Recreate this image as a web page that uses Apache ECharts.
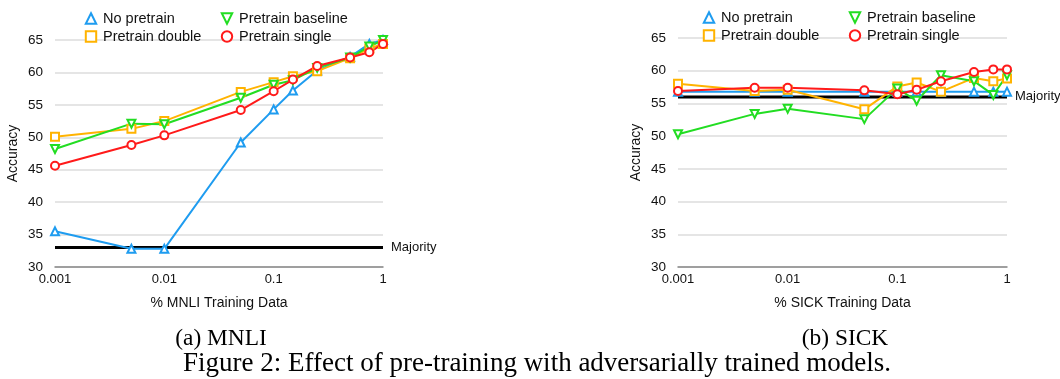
<!DOCTYPE html>
<html>
<head>
<meta charset="utf-8">
<script src="https://cdn.jsdelivr.net/npm/echarts@6/dist/echarts.min.js"></script>
<style>html,body{margin:0;padding:0;background:#fff}#c{width:1060px;height:379px}</style>
</head>
<body>
<div id="c"></div>
<script>
const xVals = [0.001, 0.005, 0.01, 0.05, 0.1, 0.15, 0.25, 0.5, 0.75, 1];
const yTicks = [30, 35, 40, 45, 50, 55, 60, 65];
const xTickLabels = ['0.001', '0.01', '0.1', '1'];
const seriesNames = ['No pretrain', 'Pretrain double', 'Pretrain baseline', 'Pretrain single'];

// MNLI
const mnliNoPretrain = [35.5, 32.8, 32.8, 49.2, 54.3, 57.2, 60.3, 62.4, 64.4, 65.0];
const mnliDouble     = [50.1, 51.3, 52.5, 57.0, 58.5, 59.4, 60.2, 62.2, 63.7, 64.4];
const mnliBaseline   = [48.2, 52.1, 52.0, 56.1, 58.1, 58.8, 60.7, 62.3, 64.0, 65.0];
const mnliSingle     = [45.6, 48.8, 50.3, 54.2, 57.1, 58.9, 61.0, 62.3, 63.1, 64.4];
const mnliMajority = 33.0;

// SICK
const sickNoPretrain = [56.8, 56.8, 56.8, 56.8, 56.8, 56.8, 56.8, 56.8, 56.8, 56.8];
const sickDouble     = [58.0, 56.9, 57.1, 54.1, 57.6, 58.2, 56.8, 58.9, 58.4, 58.8];
const sickBaseline   = [50.3, 53.4, 54.2, 52.6, 57.3, 55.4, 59.3, 58.4, 56.3, 59.3];
const sickSingle     = [56.9, 57.4, 57.4, 57.0, 56.4, 57.1, 58.4, 59.8, 60.2, 60.2];
const sickMajority = 56.0;

const colors = {
  'No pretrain': '#1e9cf0',
  'Pretrain double': '#ffb300',
  'Pretrain baseline': '#22dd22',
  'Pretrain single': '#ff1a1a'
};
const symbols = {
  'No pretrain': ['emptyTriangle', 0],
  'Pretrain double': ['emptyRect', 0],
  'Pretrain baseline': ['emptyTriangle', 180],
  'Pretrain single': ['emptyCircle', 0]
};
const FONT = 'Liberation Sans, Arial, Helvetica, sans-serif';
const SERIF = '"Liberation Serif", "Times New Roman", serif';

function pairs(vals) { return xVals.map((x, i) => [x, vals[i]]); }

function lineSeries(name, vals, idx) {
  return {
    type: 'line', name: name, xAxisIndex: idx, yAxisIndex: idx,
    data: pairs(vals),
    symbol: symbols[name][0], symbolRotate: symbols[name][1], symbolSize: 8,
    itemStyle: { color: colors[name], borderWidth: 1.4 },
    lineStyle: { color: colors[name], width: 2 },
    emphasis: { disabled: true }
  };
}
function majoritySeries(val, idx) {
  return {
    type: 'line', name: 'Majority', xAxisIndex: idx, yAxisIndex: idx,
    data: [[xVals[0], val], [xVals[xVals.length - 1], val]],
    symbol: 'none', silent: true,
    lineStyle: { color: '#000', width: 3 },
    endLabel: { show: true, formatter: 'Majority', color: '#111', fontSize: 13, fontFamily: FONT, distance: 8 },
    emphasis: { disabled: true }
  };
}

function xAxis(idx, title) {
  return {
    type: 'log', logBase: 10, min: 0.001, max: 1, gridIndex: idx,
    name: title, nameLocation: 'middle', nameGap: 29,
    nameTextStyle: { fontSize: 14, fontFamily: FONT, color: '#111' },
    axisLine: { show: true, lineStyle: { color: '#888', width: 1.5 } },
    axisTick: { show: false },
    splitLine: { show: false },
    axisLabel: {
      margin: 6, fontSize: 13, fontFamily: FONT, color: '#111',
      formatter: function (v) {
        const s = String(+(+v).toPrecision(3));
        return xTickLabels.indexOf(s) >= 0 ? s : '';
      }
    }
  };
}
function yAxis(idx) {
  return {
    type: 'value', min: yTicks[0], max: yTicks[yTicks.length - 1], interval: 5, gridIndex: idx,
    name: 'Accuracy', nameLocation: 'middle', nameGap: 35,
    nameTextStyle: { fontSize: 14, fontFamily: FONT, color: '#111' },
    axisLine: { show: false }, axisTick: { show: false },
    splitLine: { lineStyle: { color: '#dcdcdc', width: 1.5 } },
    axisLabel: { margin: 12, fontSize: 13.5, fontFamily: FONT, color: '#111' }
  };
}
function legend(names, left, top) {
  return {
    orient: 'vertical', left: left, top: top, data: names,
    itemWidth: 22, itemHeight: 13, itemGap: 3,
    textStyle: { fontSize: 14.5, fontFamily: FONT, color: '#111', padding: [0, 0, 0, -4] },
    lineStyle: { color: 'rgba(0,0,0,0)', width: 0 },
    selectedMode: false
  };
}

const chart = echarts.init(document.getElementById('c'), null, { renderer: 'canvas' });
chart.setOption({
  animation: false,
  backgroundColor: '#fff',
  grid: [
    { left: 55, top: 40, width: 328, height: 227 },
    { left: 678, top: 38, width: 329, height: 229 }
  ],
  xAxis: [xAxis(0, '% MNLI Training Data'), xAxis(1, '% SICK Training Data')],
  yAxis: [yAxis(0), yAxis(1)],
  legend: [
    legend([seriesNames[0], seriesNames[1]], 75, 6),
    legend([seriesNames[2], seriesNames[3]], 211, 6),
    legend([seriesNames[0], seriesNames[1]], 693, 5),
    legend([seriesNames[2], seriesNames[3]], 839, 5)
  ],
  series: [
    majoritySeries(mnliMajority, 0),
    lineSeries('No pretrain', mnliNoPretrain, 0),
    lineSeries('Pretrain double', mnliDouble, 0),
    lineSeries('Pretrain baseline', mnliBaseline, 0),
    lineSeries('Pretrain single', mnliSingle, 0),
    majoritySeries(sickMajority, 1),
    lineSeries('No pretrain', sickNoPretrain, 1),
    lineSeries('Pretrain double', sickDouble, 1),
    lineSeries('Pretrain baseline', sickBaseline, 1),
    lineSeries('Pretrain single', sickSingle, 1)
  ],
  graphic: [
    { type: 'text', x: 221, y: 339, style: { text: '(a) MNLI', font: '23.4px ' + SERIF, fill: '#000', align: 'center', verticalAlign: 'middle' } },
    { type: 'text', x: 845, y: 339, style: { text: '(b) SICK', font: '23.4px ' + SERIF, fill: '#000', align: 'center', verticalAlign: 'middle' } },
    { type: 'text', x: 537, y: 364, style: { text: 'Figure 2: Effect of pre-training with adversarially trained models.', font: '27px ' + SERIF, fill: '#000', align: 'center', verticalAlign: 'middle' } }
  ]
});
</script>
</body>
</html>
